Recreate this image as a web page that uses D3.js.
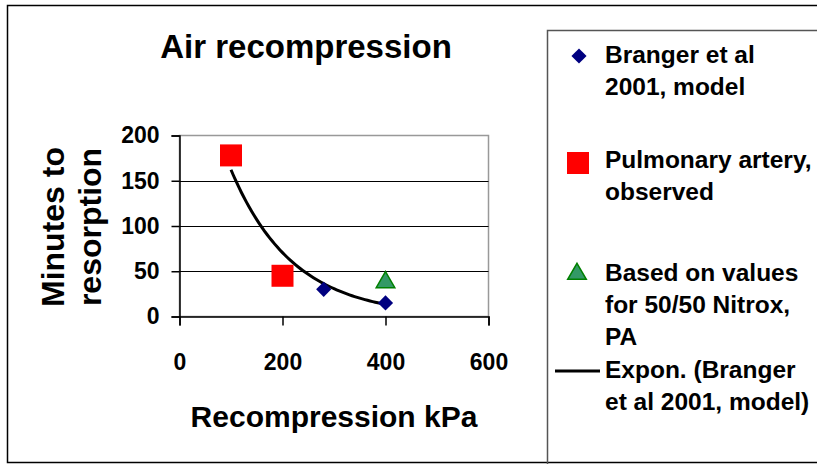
<!DOCTYPE html>
<html>
<head>
<meta charset="utf-8">
<script src="https://cdn.jsdelivr.net/npm/d3@7"></script>
<style>
  body { margin: 0; background: #fff; }
  text { font-family: Arial, "Liberation Sans", sans-serif; font-weight: bold; fill: #000; }
</style>
</head>
<body>
<div id="chart"></div>
<script>
// data
var brangerX = [100, 280, 400];
var brangerY = [175, 30, 15];
var pulmonaryX = [100, 200];
var pulmonaryY = [178, 45];
var nitroxX = [400];
var nitroxY = [40];
var xTicks = [0, 200, 400, 600];
var yTicks = [0, 50, 100, 150, 200];

var width = 817, height = 464;
var svg = d3.select('#chart').append('svg')
    .attr('width', width)
    .attr('height', height);

// outer chart frame
svg.append('rect')
    .attr('x', 7.5).attr('y', 5.5)
    .attr('width', 830).attr('height', 457)
    .attr('fill', 'none').attr('stroke', '#000').attr('stroke-width', 1.5);

var plot = { left: 179.5, right: 488.5, top: 135.5, bottom: 316.5 };

var x = d3.scaleLinear().domain([0, 600]).range([plot.left, plot.right]);
var y = d3.scaleLinear().domain([0, 200]).range([plot.bottom, plot.top]);

// plot area border (grey)
svg.append('rect')
    .attr('x', plot.left).attr('y', plot.top)
    .attr('width', plot.right - plot.left).attr('height', plot.bottom - plot.top)
    .attr('fill', 'none').attr('stroke', '#999').attr('stroke-width', 1.5);

// gridlines
svg.selectAll('.grid')
    .data(yTicks.filter(function(d) { return d > 0 && d < 200; }))
    .enter().append('line')
    .attr('x1', plot.left).attr('x2', plot.right)
    .attr('y1', function(d) { return Math.round(y(d)) + 0.5; })
    .attr('y2', function(d) { return Math.round(y(d)) + 0.5; })
    .attr('stroke', '#000').attr('stroke-width', 1);

// axes
var yAxis = svg.append('g')
    .attr('transform', 'translate(' + plot.left + ',0)')
    .call(d3.axisLeft(y).tickValues(yTicks).tickSize(8).tickPadding(12));
var xAxis = svg.append('g')
    .attr('transform', 'translate(0,' + plot.bottom + ')')
    .call(d3.axisBottom(x).tickValues(xTicks).tickSize(9).tickPadding(28));
[xAxis, yAxis].forEach(function(a) {
    a.select('.domain').attr('stroke', '#000').attr('stroke-width', 1.5);
    a.selectAll('.tick line').attr('stroke', '#000').attr('stroke-width', 1.5);
    a.selectAll('.tick text')
        .attr('font-family', 'Arial, "Liberation Sans", sans-serif')
        .attr('font-weight', 'bold')
        .attr('font-size', 23)
        .attr('fill', '#000');
});

// exponential trend line (least squares on log y)
var lx = brangerX, ly = brangerY.map(Math.log);
var mx = d3.mean(lx), my = d3.mean(ly);
var b = d3.sum(lx, function(d, i) { return (d - mx) * (ly[i] - my); }) /
        d3.sum(lx, function(d) { return (d - mx) * (d - mx); });
var a = Math.exp(my - b * mx);
var trendX = d3.range(d3.min(brangerX), d3.max(brangerX) + 1, 5);
svg.append('path')
    .datum(trendX)
    .attr('fill', 'none')
    .attr('stroke', '#000')
    .attr('stroke-width', 3)
    .attr('d', d3.line()
        .x(function(d) { return x(d); })
        .y(function(d) { return y(a * Math.exp(b * d)); }));

var diamond = d3.symbol().type(d3.symbolSquare).size(115);
var square = d3.symbol().type(d3.symbolSquare).size(484);
var triangle = d3.symbol().type(d3.symbolTriangle).size(150);

svg.selectAll('.branger')
    .data(brangerX)
    .enter().append('path')
    .attr('d', diamond)
    .attr('transform', function(d, i) {
        return 'translate(' + x(d) + ',' + y(brangerY[i]) + ') rotate(45)';
    })
    .attr('fill', '#000080');

svg.selectAll('.pulm')
    .data(pulmonaryX)
    .enter().append('path')
    .attr('d', square)
    .attr('transform', function(d, i) {
        return 'translate(' + x(d) + ',' + y(pulmonaryY[i]) + ')';
    })
    .attr('fill', '#ff0000');

svg.selectAll('.nitrox')
    .data(nitroxX)
    .enter().append('path')
    .attr('d', triangle)
    .attr('transform', function(d, i) {
        return 'translate(' + x(d) + ',' + (y(nitroxY[i]) + 2) + ')';
    })
    .attr('fill', '#339966')
    .attr('stroke', '#008000')
    .attr('stroke-width', 1.5);

// titles
svg.append('text')
    .attr('x', 306).attr('y', 58)
    .attr('text-anchor', 'middle')
    .attr('font-size', 33)
    .text('Air recompression');

svg.append('text')
    .attr('x', 334).attr('y', 427)
    .attr('text-anchor', 'middle')
    .attr('font-size', 30)
    .text('Recompression kPa');

var yTitle = svg.append('text')
    .attr('transform', 'translate(64,227) rotate(-90)')
    .attr('text-anchor', 'middle')
    .attr('font-size', 32);
yTitle.append('tspan').attr('x', 0).attr('y', 0).text('Minutes to');
yTitle.append('tspan').attr('x', 0).attr('y', 37).text('resorption');

// legend
svg.append('rect')
    .attr('x', 547.5).attr('y', 30.5)
    .attr('width', 300).attr('height', 440)
    .attr('fill', 'none').attr('stroke', '#555').attr('stroke-width', 1.5);

var legendItems = [
    { lines: ['Branger et al', '2001, model'], y: 63 },
    { lines: ['Pulmonary artery,', 'observed'], y: 168 },
    { lines: ['Based on values', 'for 50/50 Nitrox,', 'PA'], y: 281 },
    { lines: ['Expon. (Branger', 'et al 2001, model)'], y: 378 }
];

var legend = svg.selectAll('.legend')
    .data(legendItems)
    .enter().append('g');

legend.append('text')
    .attr('font-size', 24.5)
    .each(function(d) {
        var t = d3.select(this);
        d.lines.forEach(function(l, i) {
            t.append('tspan').attr('x', 605).attr('y', d.y + i * 32).text(l);
        });
    });

svg.append('path').attr('d', diamond)
    .attr('transform', 'translate(579,56) rotate(45)').attr('fill', '#000080');
svg.append('path').attr('d', square)
    .attr('transform', 'translate(578,163)').attr('fill', '#ff0000');
svg.append('path').attr('d', triangle)
    .attr('transform', 'translate(577,274)')
    .attr('fill', '#339966').attr('stroke', '#008000').attr('stroke-width', 1.5);
svg.append('line')
    .attr('x1', 555).attr('x2', 600).attr('y1', 371).attr('y2', 371)
    .attr('stroke', '#000').attr('stroke-width', 3);
</script>
</body>
</html>
